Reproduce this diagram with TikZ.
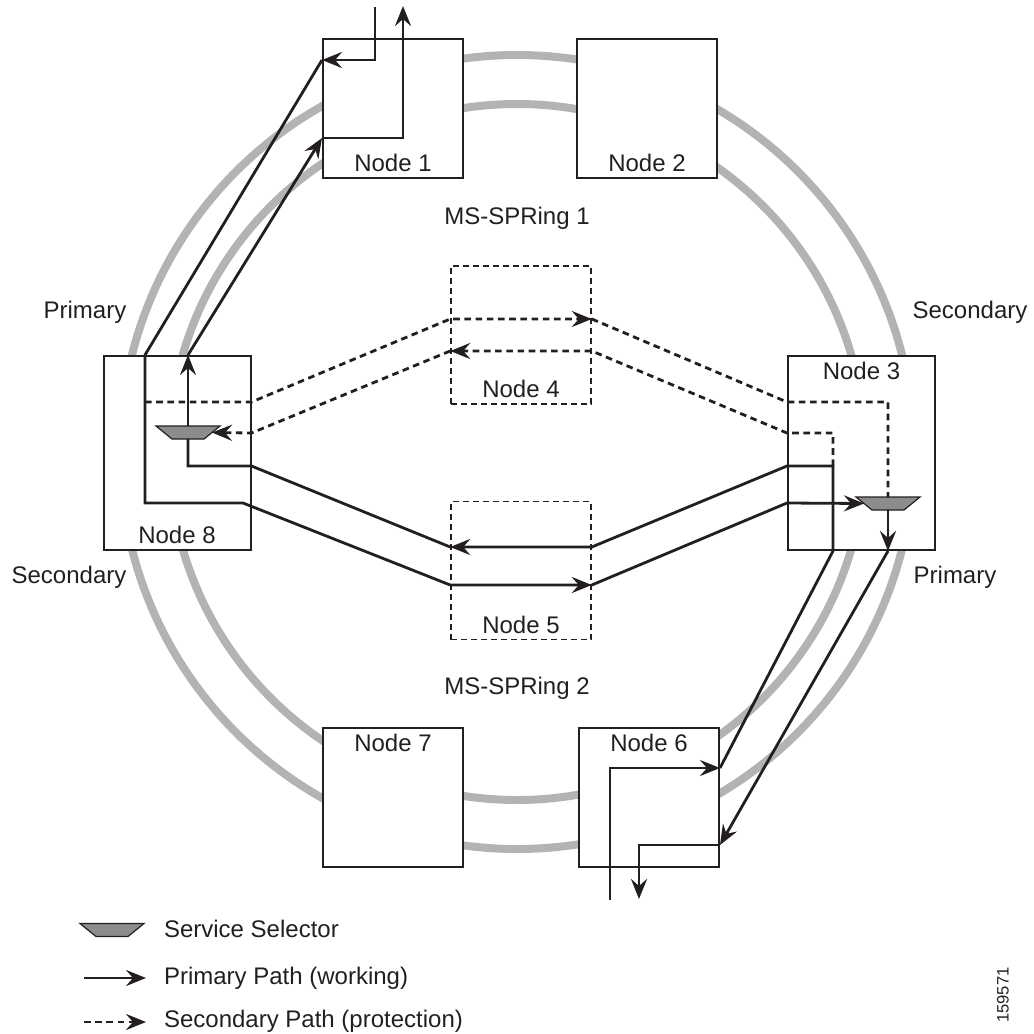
\documentclass[tikz,border=0pt]{standalone}
\usepackage{fontspec}
\setmainfont{Liberation Sans}
\usetikzlibrary{arrows.meta}
\definecolor{ringgray}{HTML}{B3B3B3}
\definecolor{selgray}{HTML}{8C8C8C}
\definecolor{ink}{HTML}{231F20}
\tikzset{
  ring/.style={draw=ringgray,line width=4pt},
  box/.style={draw=ink,fill=white,line width=1pt,minimum width=70pt,minimum height=69.5pt,inner sep=0pt},
  tallbox/.style={box,minimum width=73.5pt,minimum height=97pt},
  ghost/.style={draw=ink,line width=.8pt,dash pattern=on 3pt off 2pt,minimum width=70pt,minimum height=69pt,inner sep=0pt},
  work/.style={draw=ink,line width=1.4pt},
  prot/.style={work,dash pattern=on 3.3pt off 2.3pt},
  txt/.style={text=ink,font=\fontsize{12}{14}\selectfont},
  selector/.pic={
    \draw[draw=ink,fill=selgray,line width=.6pt] (-32,-6.5) -- (32,-6.5) -- (16,6.5) -- (-16,6.5) -- cycle;
    \coordinate (-top) at (0,-6.5);
    \coordinate (-bot) at (0,6.5);
    \coordinate (-lft) at (-24,0);
    \coordinate (-rgt) at (24,0);
  }
}
\begin{document}
\begin{tikzpicture}[x=0.5pt,y=-0.5pt,>={Stealth[length=10pt,width=8pt,inset=3.5pt]}]
  \useasboundingbox (0,0) rectangle (1034,1034);
  \draw[ring] (517,452) circle[radius=198.5pt];
  \draw[ring] (517,452) circle[radius=174pt];

  \node[box,label={[txt,anchor=south]south:Node 1}] (n1) at (393,108.5) {};
  \node[box,label={[txt,anchor=south]south:Node 2}] (n2) at (647,108.5) {};
  \node[tallbox,label={[txt,anchor=south]south:Node 8}] (n8) at (177,453) {};
  \node[tallbox,label={[txt,anchor=north]north:Node 3}] (n3) at (861.5,453) {};
  \node[ghost,label={[txt,anchor=south]south:Node 4}] (n4) at (521,335) {};
  \node[ghost,label={[txt,anchor=south]south:Node 5}] (n5) at (521,570.5) {};
  \node[box,label={[txt,anchor=north]north:Node 7}] (n7) at (393,797.5) {};
  \node[box,label={[txt,anchor=north]north:Node 6}] (n6) at (649,797.5) {};

  \pic (s8) at (188,432.5) {selector};
  \pic (s3) at (888,503.5) {selector};

  \node[txt] (ring1) at (517,218) {MS-SPRing 1};
  \node[txt] (ring2) at (517,688) {MS-SPRing 2};
  \node[txt] (pri8) at (85,312) {Primary};
  \node[txt] (sec3) at (970,312) {Secondary};
  \node[txt] (sec8) at (69,577) {Secondary};
  \node[txt] (pri3) at (955,577) {Primary};

  \coordinate (a0) at (375,7);
  \coordinate (a1) at (375,60);
  \coordinate (a3) at (145,503);
  \coordinate (a4) at (243,503);
  \coordinate (a5) at (451,585);
  \coordinate (b0) at (610,900);
  \coordinate (b1) at (610,768);
  \coordinate (b2) at (833,466);
  \coordinate (b3) at (451,547);
  \coordinate (b4) at (188,466);
  \coordinate (b5) at (403,138);
  \coordinate (b6) at (403,6);
  \coordinate (c1) at (639,845);
  \coordinate (c2) at (639,899);
  \coordinate (d1) at (145,402);
  \coordinate (d2) at (451,319);
  \coordinate (d3) at (833,433);
  \coordinate (d4) at (451,351);

  \draw[work,->] (a0) -- (a1) -- (n1.west |- a1);
  \draw[work,->] (n1.west |- a1) -- (n8.north -| a3) -- (a3) -- (a4) -- (n5.west |- a5) -- (n5.east |- a5);
  \draw[work,->] (n5.east |- a5) -- (n3.west |- a4) -- (s3-lft);

  \draw[work,->] (b0) -- (b1) -- (n6.east |- b1);
  \draw[work,->] (n6.east |- b1) -- (n3.south -| b2) -- (b2) -- (n3.west |- b2) -- (n5.east |- b3) -- (n5.west |- b3);
  \draw[work] (n5.west |- b3) -- (n8.east |- b4) -- (b4) -- (s8-bot);
  \draw[work,->] (s8-top) -- (n8.north -| b4);
  \draw[work,->] (n8.north -| b4) -- (n1.west |- b5);
  \draw[work,->] (n1.west |- b5) -- (b5) -- (b6);

  \draw[work,->] (s3-bot) -- (n3.south -| s3-bot);
  \draw[work,->] (n3.south -| s3-bot) -- (n6.east |- c1);
  \draw[work,->] (n6.east |- c1) -- (c1) -- (c2);

  \draw[prot,->] (d1) -- (n8.east |- d1) -- (n4.west |- d2) -- (n4.east |- d2);
  \draw[prot] (n4.east |- d2) -- (n3.west |- d1) -- (s3-top |- d1) -- (s3-top);
  \draw[prot,->] (b2) -- (d3) -- (n3.west |- d3) -- (n4.east |- d4) -- (n4.west |- d4);
  \draw[prot,->] (n4.west |- d4) -- (n8.east |- d3) -- (s8-rgt);

  \pic (lsel) at (112,930) {selector};
  \node[txt,anchor=west] (tsel) at (157,929) {Service Selector};
  \coordinate (lw0) at (84,978);
  \coordinate (lw1) at (146,978);
  \draw[work,->] (lw0) -- (lw1);
  \node[txt,anchor=west] (twork) at (157,978) {Primary Path (working)};
  \coordinate (lp0) at (84,1022);
  \coordinate (lp1) at (146,1022);
  \draw[prot,->] (lp0) -- (lp1);
  \node[txt,anchor=west] (tprot) at (157,1021) {Secondary Path (protection)};
  \node[text=ink,font=\fontsize{8.3}{10}\selectfont,rotate=90] (fig) at (1003,995) {159571};
\end{tikzpicture}
\end{document}
